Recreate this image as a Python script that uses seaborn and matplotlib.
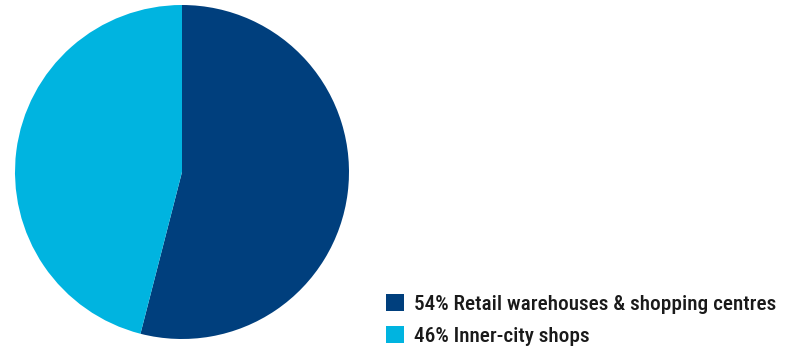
import matplotlib
matplotlib.use("Agg")
import matplotlib.pyplot as plt
import seaborn as sns
from matplotlib.patches import Patch

sns.set_theme(style="white")
plt.rcParams['font.family'] = ['Roboto Condensed', 'DejaVu Sans']

labels = ["54% Retail warehouses & shopping centres", "46% Inner-city shops"]
values = [54, 46]
colors = ["#003F7D", "#00B4E0"]

W, H = 787, 346
fig = plt.figure(figsize=(W / 100, H / 100), dpi=100)
cx, cy, r = 182, 172, 167
ax = fig.add_axes([(cx - r) / W, (H - cy - r) / H, 2 * r / W, 2 * r / H])
wedges, _ = ax.pie(values, colors=colors, startangle=90, counterclock=False,
                   wedgeprops=dict(linewidth=0))
ax.set_xlim(-1, 1)
ax.set_ylim(-1, 1)
ax.set_aspect("equal")
ax.axis("off")

handles = [Patch(facecolor=c, edgecolor="none") for c in colors]
fig.legend(handles, labels, loc="lower left", bbox_to_anchor=(377 / W, -8.5 / H),
           frameon=False, handlelength=0.86, handleheight=0.86,
           handletextpad=0.5, labelspacing=0.58, borderaxespad=0,
           labelcolor="#1a1a1a",
           prop=dict(family=['Roboto Condensed', 'DejaVu Sans'], weight=500, size=15.3))

fig.savefig("out.png", dpi=100, facecolor="white")
